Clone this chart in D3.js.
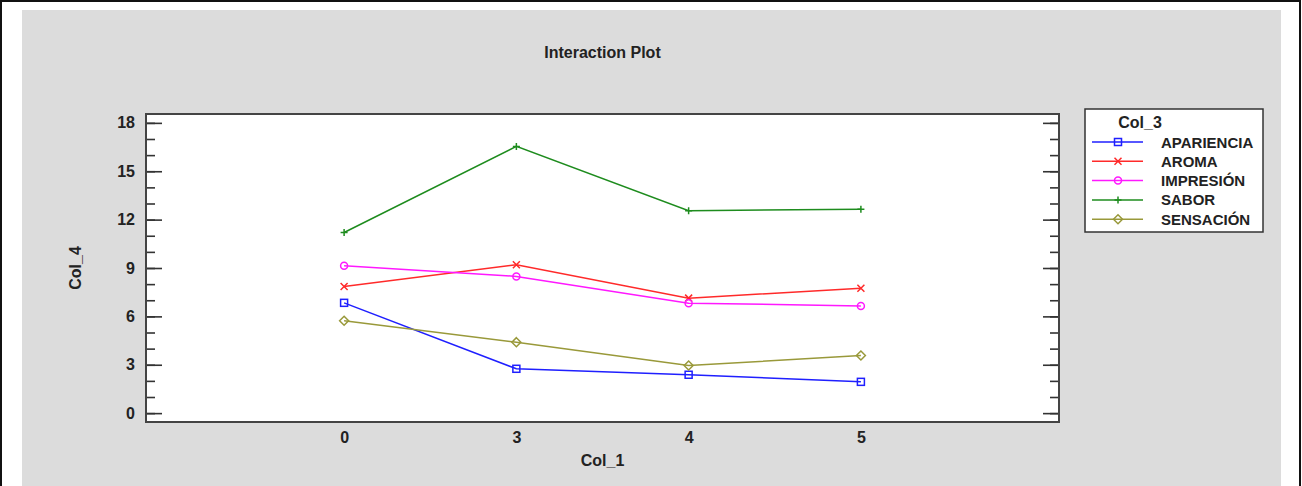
<!DOCTYPE html>
<html>
<head>
<meta charset="utf-8">
<script src="https://cdn.jsdelivr.net/npm/d3@7"></script>
<style>
  body { margin: 0; background: #fff; }
  svg text { font-family: "Liberation Sans", Arial, sans-serif; font-weight: bold; fill: #222; }
</style>
</head>
<body>
<svg id="chart" width="1302" height="486"></svg>
<script>
// DATA
const levels = ["0", "3", "4", "5"];            // Col_1
const seriesNames = ["APARIENCIA", "AROMA", "IMPRESIÓN", "SABOR", "SENSACIÓN"]; // Col_3
const apariencia = [6.84, 2.75, 2.38, 1.94];
const aroma      = [7.85, 9.2, 7.13, 7.75];
const impresion  = [9.14, 8.48, 6.82, 6.65];
const sabor      = [11.2, 16.54, 12.55, 12.65];
const sensacion  = [5.73, 4.4, 2.95, 3.57];
const yTicks = [0, 3, 6, 9, 12, 15, 18];

const colors = ["#1f1fff", "#ff2a2a", "#ff18ff", "#1e8c1e", "#99993a"];
const markers = ["square", "cross", "circle", "plus", "diamond"];

const series = seriesNames.map((name, i) => ({
  name: name,
  values: [apariencia, aroma, impresion, sabor, sensacion][i],
  color: colors[i],
  marker: markers[i]
}));

const svg = d3.select("#chart");

// background panel + outer frame
svg.append("rect").attr("x", 22).attr("y", 10).attr("width", 1259).attr("height", 500).attr("fill", "#dcdcdc");
svg.append("rect").attr("x", 1).attr("y", 1).attr("width", 1299).attr("height", 520)
  .attr("fill", "none").attr("stroke", "#111").attr("stroke-width", 2);

const plot = { left: 146, right: 1059, top: 114, bottom: 422 };

svg.append("rect")
  .attr("x", plot.left).attr("y", plot.top)
  .attr("width", plot.right - plot.left).attr("height", plot.bottom - plot.top)
  .attr("fill", "#fff");

const x = d3.scalePoint().domain(levels).range([plot.left, plot.right]).padding(1.15);
const y = d3.scaleLinear().domain([-0.55, 18.55]).range([plot.bottom, plot.top]);

// y axis: minor + major ticks, left and right (inside)
const minorVals = d3.range(0, 19, 1);
function styleAxis(g) {
  g.select(".domain").remove();
  g.selectAll("line").attr("stroke", "#333").attr("stroke-width", 1.6);
  g.selectAll("text").attr("font-size", 16).attr("fill", "#222")
    .attr("font-family", "Liberation Sans, Arial, sans-serif").attr("font-weight", "bold");
}
svg.append("g").attr("transform", `translate(${plot.left},0)`)
  .call(d3.axisLeft(y).tickValues(minorVals).tickSize(-9).tickFormat(""))
  .call(styleAxis);
svg.append("g").attr("transform", `translate(${plot.left},0)`)
  .call(d3.axisLeft(y).tickValues(yTicks).tickSize(-16).tickPadding(11))
  .call(styleAxis);
svg.append("g").attr("transform", `translate(${plot.right},0)`)
  .call(d3.axisRight(y).tickValues(minorVals).tickSize(-9).tickFormat(""))
  .call(styleAxis);
svg.append("g").attr("transform", `translate(${plot.right},0)`)
  .call(d3.axisRight(y).tickValues(yTicks).tickSize(-16).tickFormat(""))
  .call(styleAxis);

// x axis labels
svg.append("g").attr("transform", `translate(0,${plot.bottom})`)
  .call(d3.axisBottom(x).tickSize(0).tickPadding(10))
  .call(styleAxis);

// frame
svg.append("rect")
  .attr("x", plot.left).attr("y", plot.top)
  .attr("width", plot.right - plot.left).attr("height", plot.bottom - plot.top)
  .attr("fill", "none").attr("stroke", "#444").attr("stroke-width", 2);

// titles
svg.append("text").attr("x", (plot.left + plot.right) / 2).attr("y", 58)
  .attr("text-anchor", "middle").attr("font-size", 16).text("Interaction Plot");
svg.append("text").attr("x", (plot.left + plot.right) / 2).attr("y", 466)
  .attr("text-anchor", "middle").attr("font-size", 16).text("Col_1");
svg.append("text").attr("transform", `translate(81,${(plot.top + plot.bottom) / 2}) rotate(-90)`)
  .attr("text-anchor", "middle").attr("font-size", 16).text("Col_4");

function drawMarker(g, type, cx, cy, color) {
  const s = 3.5;
  if (type === "square") {
    g.append("rect").attr("x", cx - s).attr("y", cy - s).attr("width", 2 * s).attr("height", 2 * s)
      .attr("fill", "none").attr("stroke", color).attr("stroke-width", 1.5);
  } else if (type === "circle") {
    g.append("circle").attr("cx", cx).attr("cy", cy).attr("r", s)
      .attr("fill", "none").attr("stroke", color).attr("stroke-width", 1.5);
  } else if (type === "cross") {
    g.append("path").attr("d", `M${cx - s},${cy - s}L${cx + s},${cy + s}M${cx - s},${cy + s}L${cx + s},${cy - s}`)
      .attr("stroke", color).attr("stroke-width", 1.5);
  } else if (type === "plus") {
    g.append("path").attr("d", `M${cx - s},${cy}L${cx + s},${cy}M${cx},${cy - s}L${cx},${cy + s}`)
      .attr("stroke", color).attr("stroke-width", 1.5);
  } else if (type === "diamond") {
    const d = 4.5;
    g.append("path").attr("d", `M${cx},${cy - d}L${cx + d},${cy}L${cx},${cy + d}L${cx - d},${cy}Z`)
      .attr("fill", "none").attr("stroke", color).attr("stroke-width", 1.5);
  }
}

// lines + markers
const line = d3.line().x((d, i) => x(levels[i])).y(d => y(d));
series.forEach(s => {
  const g = svg.append("g");
  g.append("path").attr("d", line(s.values))
    .attr("fill", "none").attr("stroke", s.color).attr("stroke-width", 1.5);
  s.values.forEach((v, i) => drawMarker(g, s.marker, x(levels[i]), y(v), s.color));
});

// legend
const lg = svg.append("g");
lg.append("rect").attr("x", 1085).attr("y", 109).attr("width", 178).attr("height", 123)
  .attr("fill", "#fff").attr("stroke", "#333").attr("stroke-width", 1.5);
lg.append("text").attr("x", 1140).attr("y", 128).attr("text-anchor", "middle")
  .attr("font-size", 16).text("Col_3");
series.forEach((s, i) => {
  const ly = 142 + i * 19.3;
  lg.append("line").attr("x1", 1092).attr("x2", 1143).attr("y1", ly).attr("y2", ly)
    .attr("stroke", s.color).attr("stroke-width", 1.5);
  drawMarker(lg, s.marker, 1118, ly, s.color);
  lg.append("text").attr("x", 1161).attr("y", ly + 5.5).attr("font-size", 15).text(s.name);
});
</script>
</body>
</html>
